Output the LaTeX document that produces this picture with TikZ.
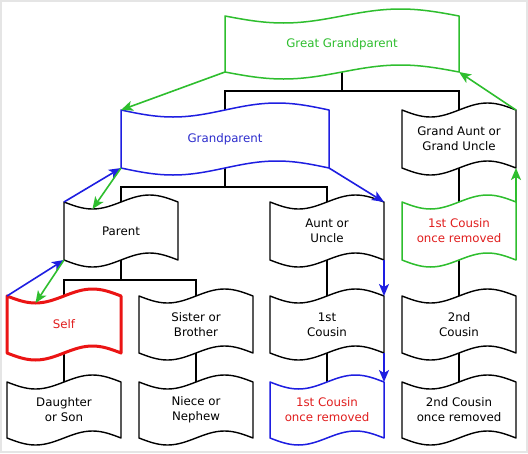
\documentclass[tikz,border=0pt]{standalone}
\usepackage{fontspec}
\setmainfont{DejaVu Sans}
\usetikzlibrary{calc,arrows.meta}
\definecolor{ggreen}{RGB}{46,190,46}
\definecolor{bblue}{RGB}{30,30,225}
\definecolor{tblue}{RGB}{45,45,205}
\definecolor{rred}{RGB}{235,20,20}
\definecolor{tred}{RGB}{225,30,30}
\pgfdeclarelayer{bg}
\pgfsetlayers{bg,main}
\newcommand\wavebox[2]{%
 \draw[#2] (#1.north west)
   sin ($(#1.north west)!.25!(#1.north east)+(0,7)$)
   cos ($(#1.north west)!.5!(#1.north east)$)
   sin ($(#1.north west)!.75!(#1.north east)+(0,-7)$)
   cos (#1.north east) -- (#1.south east)
   sin ($(#1.south east)!.25!(#1.south west)+(0,-7)$)
   cos ($(#1.south east)!.5!(#1.south west)$)
   sin ($(#1.south east)!.75!(#1.south west)+(0,7)$)
   cos (#1.south west) -- cycle;}
\tikzset{
 lbl/.style={inner sep=0pt, outer sep=0pt, align=center, minimum width=114pt, minimum height=57pt,
   font=\fontsize{11.8}{15}\selectfont, text=black},
 conn/.style={line width=1.5pt, black},
 bbox/.style={line width=1.4pt, draw=black, fill=white, line join=round},
 gbox/.style={line width=1.5pt, draw=ggreen, fill=white, line join=round},
 blbox/.style={line width=1.5pt, draw=bblue, fill=white, line join=round},
 rbox/.style={line width=3pt, draw=rred, fill=white, line join=round},
 tip/.style={-{Stealth[length=12pt,width=10pt,inset=3pt]}},
 garr/.style={tip, line width=1.6pt, draw=ggreen, fill=ggreen},
 barr/.style={tip, line width=1.6pt, draw=bblue, fill=bblue}
}
\begin{document}
\begin{tikzpicture}[x=1pt,y=-1pt]
\useasboundingbox (0,0) rectangle (528,453);
% nodes
\node[lbl, minimum width=234pt, minimum height=56pt, text=ggreen] (ggp) at (342,44) {Great Grandparent};
\node[lbl, minimum width=208pt, minimum height=58pt, text=tblue] (gp) at (225,139) {Grandparent};
\node[lbl, minimum height=58pt] (ga) at (459,139) {Grand Aunt or\\Grand Uncle};
\node[lbl, minimum height=58pt] (parent) at (121,231) {Parent};
\node[lbl, minimum height=58pt] (aunt) at (327,231) {Aunt or\\Uncle};
\node[lbl, minimum height=58pt, text=tred] (gcr) at (459,231) {1st Cousin\\once removed};
\node[lbl, text=tred] (self) at (64,324.5) {Self};
\node[lbl] (sister) at (196,324.5) {Sister or\\Brother};
\node[lbl] (cous) at (327,324.5) {1st\\Cousin};
\node[lbl] (cous2) at (459,324.5) {2nd\\Cousin};
\node[lbl, minimum height=56pt] (child) at (64,410) {Daughter\\or Son};
\node[lbl, minimum height=56pt] (niece) at (196,410) {Niece or\\Nephew};
\node[lbl, minimum height=56pt, text=tred] (bcr) at (327,410) {1st Cousin\\once removed};
\node[lbl, minimum height=56pt] (cous2r) at (459,410) {2nd Cousin\\once removed};
\begin{pgfonlayer}{bg}
\fill[white] (0,0) rectangle (528,453);
\draw[black!10, line width=2pt] (1,1) rectangle (527,452);
% tree connectors
\draw[conn] (ggp.south) -- ++(0,19) -| (gp.north);
\draw[conn] (ggp.south) -- ++(0,19) -| (ga.north);
\draw[conn] (gp.south) -- ++(0,19) -| (parent.north);
\draw[conn] (gp.south) -- ++(0,19) -| (aunt.north);
\draw[conn] (parent.south) -- ++(0,20) -| (self.north);
\draw[conn] (parent.south) -- ++(0,20) -| (sister.north);
\draw[conn] (self.south) -- (child.north);
\draw[conn] (sister.south) -- (niece.north);
\draw[conn] (aunt.south) -- (cous.north);
\draw[conn] (cous.south) -- (bcr.north);
\draw[conn] (ga.south) -- (gcr.north);
\draw[conn] (gcr.south) -- (cous2.north);
\draw[conn] (cous2.south) -- (cous2r.north);
% box outlines
\wavebox{ggp}{gbox}
\wavebox{gp}{blbox}
\wavebox{ga}{bbox}
\wavebox{parent}{bbox}
\wavebox{aunt}{bbox}
\wavebox{gcr}{gbox}
\wavebox{self}{rbox}
\wavebox{sister}{bbox}
\wavebox{cous}{bbox}
\wavebox{cous2}{bbox}
\wavebox{child}{bbox}
\wavebox{niece}{bbox}
\wavebox{bcr}{blbox}
\wavebox{cous2r}{bbox}
\end{pgfonlayer}
% relationship arrows
\draw[garr] (ggp.south west) -- (gp.north west);
\draw[garr] (ga.north east) -- (ggp.south east);
\draw[garr] (gcr.north east) -- (ga.south east);
\draw[barr] (parent.north west) -- (gp.south west);
\draw[garr] (gp.south west) -- ($(parent.north west)!.25!(parent.north east)+(0,7)$);
\draw[barr] (self.north west) -- (parent.south west);
\draw[garr] (parent.south west) -- ($(self.north west)!.25!(self.north east)+(0,7)$);
\draw[barr] (gp.south east) -- (aunt.north east);
\draw[barr] (aunt.south east) -- (cous.north east);
\draw[barr] (cous.south east) -- (bcr.north east);
\end{tikzpicture}
\end{document}
